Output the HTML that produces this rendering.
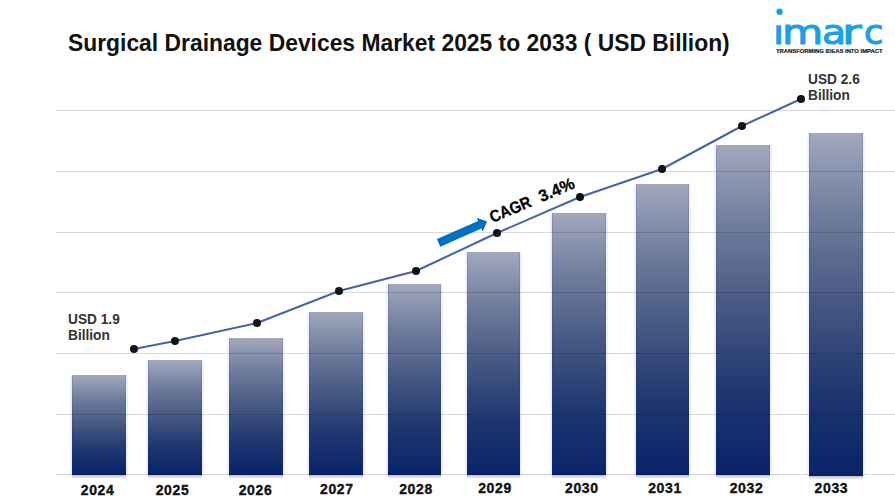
<!DOCTYPE html>
<html>
<head>
<meta charset="utf-8">
<style>
html,body{margin:0;padding:0;background:#fff;}
body{width:895px;height:504px;position:relative;overflow:hidden;font-family:"Liberation Sans",Arial,sans-serif;}
.t{position:absolute;white-space:pre;line-height:1;}
#title{left:68px;top:32px;font-weight:bold;font-size:23.4px;color:#111;transform:scaleX(0.977);transform-origin:0 0;}
.lbl{font-weight:bold;font-size:14.2px;color:#333;line-height:16px;transform:scaleX(0.965);transform-origin:0 0;}
.yr{position:absolute;top:483.5px;width:60px;text-align:center;font-weight:bold;font-size:14px;letter-spacing:0.6px;color:#111;-webkit-text-stroke:0.35px #111;}
#logo{left:773px;top:17.1px;width:120px;height:40px;font-family:"DejaVu Sans",sans-serif;font-weight:normal;font-size:36.5px;color:#1aa0e6;-webkit-text-stroke:1.1px #1aa0e6;transform:scaleY(0.915);transform-origin:0 0;}
#logo span{position:absolute;top:0;transform-origin:0 0;}
#logo .i{left:-0.3px;transform:scaleX(1.1);clip-path:inset(8.9px 0 0 0);}
#logo .m{left:8.5px;transform:scaleX(1.16);}
#logo .a{left:48.8px;transform:scaleX(1.08);}
#logo .r{left:69.1px;transform:scaleX(1.3);}
#logo .c{left:91.1px;transform:scaleX(0.97);}
#tag{left:776px;top:49.1px;font-weight:bold;font-size:5.86px;color:#1a1a1a;-webkit-text-stroke:0.2px #1a1a1a;}
svg{position:absolute;left:0;top:0;}
</style>
</head>
<body>
<svg width="895" height="504" viewBox="0 0 895 504">
  <defs>
    <linearGradient id="g" x1="0" y1="0" x2="0" y2="1">
      <stop offset="0" stop-color="#a2a8bd"/>
      <stop offset="0.25" stop-color="#6d7b9b"/>
      <stop offset="0.5" stop-color="#455782"/>
      <stop offset="0.75" stop-color="#1f3770"/>
      <stop offset="1" stop-color="#08236a"/>
    </linearGradient>
    <linearGradient id="sh" x1="0" y1="0" x2="0" y2="1">
      <stop offset="0" stop-color="#8a90a8" stop-opacity="0.6"/>
      <stop offset="1" stop-color="#8a90a8" stop-opacity="0"/>
    </linearGradient>
  </defs>
  <g fill="#eef1fb">
    <rect x="70" y="376" width="2" height="99"/><rect x="126" y="376" width="2" height="99"/>
    <rect x="146" y="361" width="2" height="114"/><rect x="202" y="361" width="2" height="114"/>
    <rect x="227" y="339" width="2" height="136"/><rect x="283" y="339" width="2" height="136"/>
    <rect x="307" y="313" width="2" height="162"/><rect x="363" y="313" width="2" height="162"/>
    <rect x="386" y="285" width="2" height="190"/><rect x="441" y="285" width="2" height="190"/>
    <rect x="465" y="253" width="2" height="222"/><rect x="520" y="253" width="2" height="222"/>
    <rect x="550" y="214" width="2" height="261"/><rect x="606" y="214" width="2" height="261"/>
    <rect x="634" y="185" width="2" height="290"/><rect x="689" y="185" width="2" height="290"/>
    <rect x="714" y="146" width="2" height="329"/><rect x="770" y="146" width="2" height="329"/>
    <rect x="807" y="134" width="2" height="342"/><rect x="863" y="134" width="2" height="342"/>
  </g>
  <g fill="url(#sh)">
    <rect x="72" y="475" width="54" height="4"/>
    <rect x="148" y="475" width="54" height="4"/>
    <rect x="229" y="475" width="54" height="4"/>
    <rect x="309" y="475" width="54" height="4"/>
    <rect x="388" y="475" width="53" height="4"/>
    <rect x="467" y="475" width="53" height="4"/>
    <rect x="552" y="475" width="54" height="4"/>
    <rect x="636" y="475" width="53" height="4"/>
    <rect x="716" y="475" width="54" height="4"/>
    <rect x="809" y="476" width="54" height="4"/>
  </g>
  <g fill="url(#g)">
    <rect x="72" y="375" width="54" height="100"/>
    <rect x="148" y="360" width="54" height="115"/>
    <rect x="229" y="338" width="54" height="137"/>
    <rect x="309" y="312" width="54" height="163"/>
    <rect x="388" y="284" width="53" height="191"/>
    <rect x="467" y="252" width="53" height="223"/>
    <rect x="552" y="213" width="54" height="262"/>
    <rect x="636" y="184" width="53" height="291"/>
    <rect x="716" y="145" width="54" height="330"/>
    <rect x="809" y="133" width="54" height="343"/>
  </g>
  <g fill="#1a2040" fill-opacity="0.12">
    <rect x="72" y="375" width="1" height="100"/><rect x="125" y="375" width="1" height="100"/>
    <rect x="148" y="360" width="1" height="115"/><rect x="201" y="360" width="1" height="115"/>
    <rect x="229" y="338" width="1" height="137"/><rect x="282" y="338" width="1" height="137"/>
    <rect x="309" y="312" width="1" height="163"/><rect x="362" y="312" width="1" height="163"/>
    <rect x="388" y="284" width="1" height="191"/><rect x="440" y="284" width="1" height="191"/>
    <rect x="467" y="252" width="1" height="223"/><rect x="519" y="252" width="1" height="223"/>
    <rect x="552" y="213" width="1" height="262"/><rect x="605" y="213" width="1" height="262"/>
    <rect x="636" y="184" width="1" height="291"/><rect x="688" y="184" width="1" height="291"/>
    <rect x="716" y="145" width="1" height="330"/><rect x="769" y="145" width="1" height="330"/>
    <rect x="809" y="133" width="1" height="343"/><rect x="862" y="133" width="1" height="343"/>
  </g>
  <g stroke="#000" stroke-opacity="0.15" stroke-width="1" shape-rendering="crispEdges">
    <line x1="56" y1="110.5" x2="895" y2="110.5"/>
    <line x1="56" y1="171.5" x2="895" y2="171.5"/>
    <line x1="56" y1="232.5" x2="895" y2="232.5"/>
    <line x1="56" y1="292.5" x2="895" y2="292.5"/>
    <line x1="56" y1="353.5" x2="895" y2="353.5"/>
    <line x1="56" y1="414.5" x2="895" y2="414.5"/>
    <line x1="56" y1="474.5" x2="895" y2="474.5"/>
  </g>
  <polyline fill="none" stroke="#4463ad" stroke-width="2" stroke-linejoin="round"
    points="134,349 175,341 257,323 339,291 416,271 497,233 580,197 662,169 742,126 801,99"/>
  <g fill="#111">
    <circle cx="134" cy="349" r="4"/>
    <circle cx="175" cy="341" r="4"/>
    <circle cx="257" cy="323" r="4"/>
    <circle cx="339" cy="291" r="4"/>
    <circle cx="416" cy="271" r="4"/>
    <circle cx="497" cy="233" r="4"/>
    <circle cx="580" cy="197" r="4"/>
    <circle cx="662" cy="169" r="4"/>
    <circle cx="742" cy="126" r="4"/>
    <circle cx="801" cy="99" r="4"/>
  </g>
  <g transform="translate(438.6 242.9) rotate(-23.85)">
    <polygon fill="#0070c0" points="0,-4.15 45,-4.15 45,-7.5 53,0 45,7.3 45,4.15 0,4.15"/>
  </g>
  <text transform="translate(492.5 223) rotate(-23)" font-family="Liberation Sans" font-weight="bold" font-size="16.5" fill="#000" stroke="#000" stroke-width="0.3"><tspan x="0" y="0" textLength="43.6" lengthAdjust="spacingAndGlyphs">CAGR</tspan> <tspan x="53.2" y="0" textLength="37.3" lengthAdjust="spacingAndGlyphs">3.4%</tspan></text>
  <circle cx="779.6" cy="11.7" r="3.2" fill="#1aa0e6"/>
</svg>
<div class="t" id="title">Surgical Drainage Devices Market 2025 to 2033 ( USD Billion)</div>
<div class="t lbl" style="left:68px;top:311.4px;">USD 1.9<br>Billion</div>
<div class="t lbl" style="left:808px;top:70.6px;">USD 2.6<br>Billion</div>
<div class="t yr" style="left:67.6px;top:483px;">2024</div>
<div class="t yr" style="left:142.5px;top:483px;">2025</div>
<div class="t yr" style="left:225.5px;top:483px;">2026</div>
<div class="t yr" style="left:306.8px;top:481.7px;">2027</div>
<div class="t yr" style="left:386px;top:481.7px;">2028</div>
<div class="t yr" style="left:465px;top:480.7px;">2029</div>
<div class="t yr" style="left:551.8px;top:480.7px;">2030</div>
<div class="t yr" style="left:635px;top:480.7px;">2031</div>
<div class="t yr" style="left:716.5px;top:480.7px;">2032</div>
<div class="t yr" style="left:801.4px;top:480.7px;">2033</div>
<div class="t" id="logo"><span class="i">i</span><span class="m">m</span><span class="a">a</span><span class="r">r</span><span class="c">c</span></div>
<div class="t" id="tag">TRANSFORMING IDEAS INTO IMPACT</div>
</body>
</html>
